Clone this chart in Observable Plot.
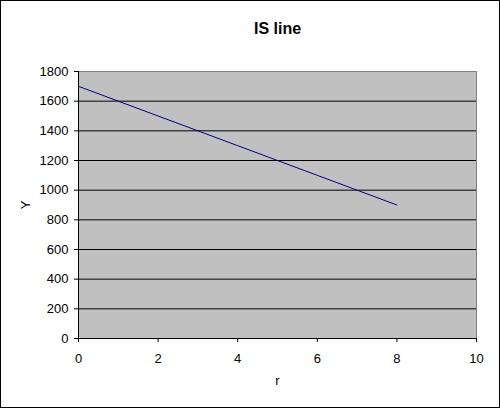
<!DOCTYPE html>
<html>
<head>
<meta charset="utf-8">
<script src="https://cdn.jsdelivr.net/npm/d3@7"></script>
<script src="https://cdn.jsdelivr.net/npm/@observablehq/plot@0.6"></script>
<style>
  html, body { margin: 0; padding: 0; background: #fff; }
  #wrap { position: relative; width: 500px; height: 408px; overflow: hidden; }
  #border { position: absolute; left: 0; top: 0; width: 500px; height: 408px; box-sizing: border-box; border: 1px solid #000; pointer-events: none; }
</style>
</head>
<body>
<div id="wrap"><div id="border"></div></div>
<script>
const title = "IS line";
const xLabel = "r";
const yLabel = "Y";
const rValues = [0, 1, 2, 3, 4, 5, 6, 7, 8];
const yValues = [1700, 1600, 1500, 1400, 1300, 1200, 1100, 1000, 900];
const xTicks = [0, 2, 4, 6, 8, 10];
const yTicks = [0, 200, 400, 600, 800, 1000, 1200, 1400, 1600, 1800];
const gridLines = [200, 400, 600, 800, 1000, 1200, 1400, 1600];

const data = rValues.map((r, i) => ({r, Y: yValues[i]}));

const chart = Plot.plot({
  width: 500,
  height: 408,
  marginLeft: 78,
  marginRight: 24,
  marginTop: 71,
  marginBottom: 70,
  style: {fontFamily: "Arial, 'Liberation Sans', sans-serif", fontSize: "13px", color: "#000", background: "transparent"},
  x: {domain: [0, 10], ticks: xTicks, tickFormat: d3.format("d"), label: xLabel},
  y: {domain: [0, 1800], ticks: yTicks, tickFormat: d3.format("d"), label: yLabel},
  marks: [
    Plot.frame({fill: "#c0c0c0", stroke: "#808080"}),
    Plot.ruleY(gridLines, {stroke: "#000", strokeWidth: 1}),
    Plot.line(data, {x: "r", y: "Y", stroke: "#000080", strokeWidth: 1}),
    Plot.axisX({ticks: xTicks, tickFormat: d3.format("d"), tickSize: 4, tickPadding: 11, stroke: "#000", fill: "#000", label: xLabel, labelAnchor: "center", labelArrow: "none", labelOffset: 46}),
    Plot.axisY({ticks: yTicks, tickFormat: d3.format("d"), tickSize: 4, tickPadding: 6, stroke: "#000", fill: "#000", label: yLabel, labelAnchor: "center", labelArrow: "none", labelOffset: 58}),
    Plot.ruleX([0], {stroke: "#000"}),
    Plot.ruleY([0], {stroke: "#000"}),
    Plot.text([title], {frameAnchor: "top", lineAnchor: "middle", dy: -43, fontSize: 16, fontWeight: "bold", fill: "#000"})
  ]
});
document.getElementById("wrap").insertBefore(chart, document.getElementById("border"));
</script>
</body>
</html>
